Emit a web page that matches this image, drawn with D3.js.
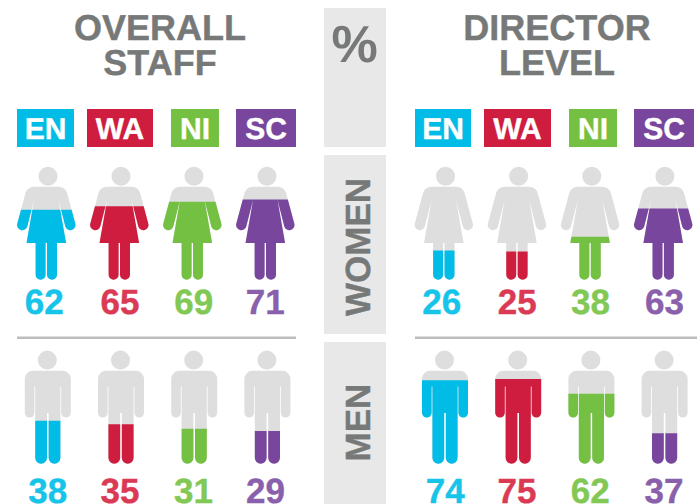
<!DOCTYPE html>
<html><head><meta charset="utf-8">
<script src="https://cdn.jsdelivr.net/npm/d3@7"></script>
<style>html,body{margin:0;padding:0;background:#fff}svg{display:block}text{font-family:"Liberation Sans",Arial,sans-serif;font-weight:700;text-rendering:geometricPrecision}</style>
</head><body><svg id="c" width="697" height="504"></svg>
<script>
const categories = ["EN","WA","NI","SC"];
const overallWomen = [62,65,69,71];
const overallMen = [38,35,31,29];
const directorWomen = [26,25,38,63];
const directorMen = [74,75,62,37];
const directorMenFill = [74,75,62,27];
const titleOverall = ["OVERALL","STAFF"];
const titleDirector = ["DIRECTOR","LEVEL"];

const colors = ["#00BCE6","#CE1D3F","#74C043","#78479D"];
const numColors = ["#16C4EA","#DB3A55","#82C855","#8A5FAC"];
const svg = d3.select("#c");
const grey = "#DEDEDE", textGrey = "#777878", panel = "#E8E8E8", rule = "#BDBDBD";
const figH = 113;
const circle = (cx,cy,r)=>`M${cx-r} ${cy}a${r} ${r} 0 1 0 ${2*r} 0a${r} ${r} 0 1 0 ${-2*r} 0Z`;
const womanPath = circle(1.7,9.5,9.5) +
 "M-12 20H12C17 20 20 23 21 27L29 56.7A5.2 5.2 0 0 1 19 59.6L12.2 33L19.8 76.3H10.7V108A5 5 0 0 1 .7 108V76.3H-.7V108A5 5 0 0 1 -10.7 108V76.3H-19.8L-12.2 33L-19 59.6A5.2 5.2 0 0 1 -29 56.7L-21 27C-20 23 -17 20 -12 20Z";
const manPath = circle(-0.5,9.3,9.5) +
 "M-15 20H15A8 8 0 0 1 23 28V62A4.8 4.8 0 0 1 13.4 62V35.7H12.6V107A5.9 5.9 0 0 1 .8 107V62.3H-.8V107A5.9 5.9 0 0 1 -12.6 107V35.7H-13.4V62A4.8 4.8 0 0 1 -23 62V28A8 8 0 0 1 -15 20Z";

const fillY = d3.scaleLinear().domain([0,100]).range([figH,0]);
let clipId = 0;

function drawRow(values, fills, path, xRange, top, labelY, nudge) {
  const x = d3.scalePoint().domain(categories).range(xRange);
  categories.forEach((c,i)=>{
    const g = svg.append("g").attr("transform",`translate(${x(c)},${top})`);
    g.append("path").attr("d",path).attr("fill",grey);
    const id = "clip"+(clipId++);
    g.append("clipPath").attr("id",id).append("rect")
      .attr("x",-35).attr("width",70).attr("y",fillY(fills[i])).attr("height",figH-fillY(fills[i])+1);
    g.append("path").attr("d",path).attr("fill",colors[i]).attr("clip-path",`url(#${id})`);
    svg.append("text").attr("x",x(c)+nudge[i]).attr("y",labelY).attr("text-anchor","middle")
      .attr("font-size",35).attr("fill",numColors[i])
      .attr("stroke",numColors[i]).attr("stroke-width",0.4).text(values[i]);
  });
}
function panelRect(y0,y1){ svg.append("rect").attr("x",324).attr("y",y0).attr("width",62).attr("height",y1-y0).attr("fill",panel); }
panelRect(8,147); panelRect(155,334); panelRect(342,504);

function title(lines,cx){
  lines.forEach((t,i)=>svg.append("text").attr("x",cx).attr("y",40+i*35).attr("text-anchor","middle")
    .attr("font-size",36).attr("fill",textGrey).attr("stroke",textGrey).attr("stroke-width",0.4).text(t));
}
title(titleOverall,160); title(titleDirector,557);
svg.append("text").attr("x",354.5).attr("y",62).attr("text-anchor","middle").attr("font-size",52).attr("fill",textGrey).text("%");

function legend(boxes){
  categories.forEach((c,i)=>{
    const [a,b]=boxes[i];
    svg.append("rect").attr("x",a).attr("y",109).attr("width",b-a).attr("height",38).attr("fill",colors[i]);
    svg.append("text").attr("x",(a+b)/2).attr("y",138.5).attr("text-anchor","middle").attr("font-size",30).attr("fill","#fff")
      .attr("stroke","#fff").attr("stroke-width",0.4).text(c);
  });
}
legend([[17,74],[87,153],[171,219],[236,296]]);
legend([[415,471],[484,551],[569,617],[634,694]]);

[[17,296],[415,697]].forEach(([a,b])=>svg.append("rect").attr("x",a).attr("y",336.5).attr("width",b-a).attr("height",2.5).attr("fill",rule));

function vert(t,cy){
  svg.append("text").attr("transform",`translate(369.5,${cy}) rotate(-90)`).attr("text-anchor","middle")
    .attr("font-size",35).attr("fill",textGrey).attr("stroke",textGrey).attr("stroke-width",0.4).text(t);
}
vert("WOMEN",247); vert("MEN",422.5);

drawRow(overallWomen,overallWomen,womanPath,[46.3,265.3],166.8,314,[-2,0.6,1.5,0]);
drawRow(directorWomen,directorWomen,womanPath,[443.8,663.2],166.8,314,[-2,0.4,0.4,1.3]);
drawRow(overallMen,overallMen,manPath,[47.8,267.4],350.8,503,[0,-1,-0.7,-1.9]);
drawRow(directorMen,directorMenFill,manPath,[445,664.6],350.8,503,[0.3,-1.2,-1.1,-0.6]);
</script></body></html>
